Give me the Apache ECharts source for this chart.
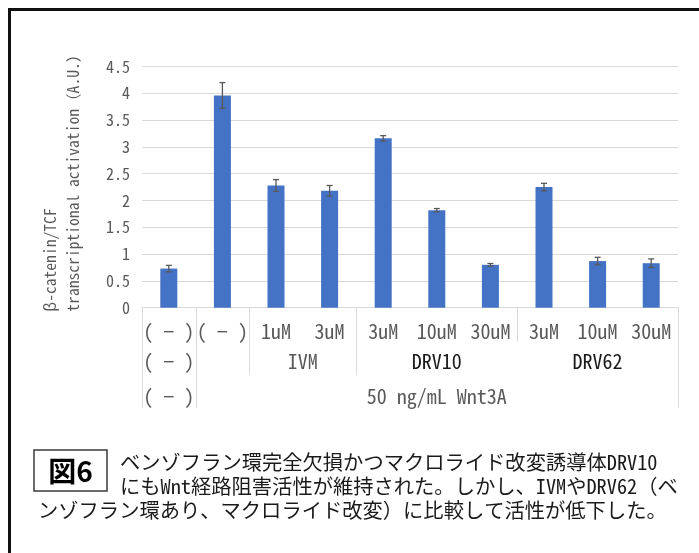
<!DOCTYPE html>
<html>
<head>
<meta charset="utf-8">
<script src="https://cdn.jsdelivr.net/npm/echarts@6/dist/echarts.min.js"></script>
<style>
  html, body { margin: 0; padding: 0; background: #fff; }
  #chart { width: 699px; height: 553px; }
</style>
</head>
<body>
<div id="chart"></div>
<script>
// Treatment conditions (first label row) and measured reporter activity
const categories = ['( − )', '( − )', '1uM', '3uM', '3uM', '10uM', '30uM', '3uM', '10uM', '30uM'];
const activation = [0.73, 3.96, 2.28, 2.18, 3.16, 1.82, 0.80, 2.25, 0.87, 0.83];
const errorBars = [0.06, 0.24, 0.11, 0.10, 0.05, 0.03, 0.025, 0.07, 0.07, 0.08];

// Value axis range
const yMin = 0;
const yMax = 4.5;
const yStep = 0.5;

// Second label row: compound groups [label, first index, last index]
const compoundGroups = [['( − )', 0, 0], ['IVM', 2, 3], ['DRV10', 4, 6], ['DRV62', 7, 9]];
// Third label row: Wnt3A stimulation
const wntGroups = [['( − )', 0, 0], ['50 ng/mL Wnt3A', 1, 9]];
// Separator lines: [category boundary, deepest label row reached]
const separators = [[0, 3], [1, 3], [2, 2], [4, 2], [7, 1], [10, 3]];

const axisTitle = ['β-catenin/TCF', 'transcriptional activation（A.U.）'];
const figureTag = '図6';
const captionLines = [
  'ベンゾフラン環完全欠損かつマクロライド改変誘導体DRV10',
  'にもWnt経路阻害活性が維持された。しかし、IVMやDRV62（ベ',
  'ンゾフラン環あり、マクロライド改変）に比較して活性が低下した。'
];

const MONO = '"Noto Sans Mono CJK JP", "Noto Sans CJK JP", monospace';
const SANS = '"Noto Sans CJK JP", "Noto Sans", sans-serif';
const GRAY = '#595959';
const GRID_COLOR = '#d9d9d9';

const chart = echarts.init(document.getElementById('chart'), null, { renderer: 'canvas' });

chart.setOption({
  animation: false,
  grid: { left: 142, right: 21, top: 66.5, bottom: 245.3 },
  xAxis: {
    type: 'category',
    data: categories,
    axisLine: { show: true, lineStyle: { color: GRID_COLOR, width: 1 } },
    axisTick: { show: false },
    axisLabel: { interval: 0, margin: 14, fontSize: 20, lineHeight: 20, fontFamily: MONO, color: GRAY }
  },
  yAxis: {
    type: 'value',
    min: yMin,
    max: yMax,
    interval: yStep,
    axisLine: { show: false },
    axisTick: { show: false },
    axisLabel: { margin: 12, fontSize: 16, fontFamily: MONO, color: GRAY },
    splitLine: { lineStyle: { color: GRID_COLOR, width: 1 } }
  },
  series: [
    {
      type: 'bar',
      data: activation,
      barWidth: 17,
      itemStyle: { color: '#4472C4' }
    },
    {
      type: 'custom',
      data: activation.map((v, i) => [i, v, errorBars[i]]),
      encode: { x: 0, y: 1 },
      z: 5,
      renderItem: function (params, api) {
        const i = api.value(0);
        const v = api.value(1);
        const e = api.value(2);
        const top = api.coord([i, v + e]);
        const bot = api.coord([i, v - e]);
        const cap = 3;
        const style = { stroke: '#595959', lineWidth: 1.3 };
        return {
          type: 'group',
          children: [
            { type: 'line', shape: { x1: top[0], y1: top[1], x2: bot[0], y2: bot[1] }, style: style },
            { type: 'line', shape: { x1: top[0] - cap, y1: top[1], x2: top[0] + cap, y2: top[1] }, style: style },
            { type: 'line', shape: { x1: bot[0] - cap, y1: bot[1], x2: bot[0] + cap, y2: bot[1] }, style: style }
          ]
        };
      }
    }
  ]
});

// Multi-level category labels and the surrounding figure decoration
const c0 = chart.convertToPixel({ xAxisIndex: 0 }, 0);
const c1 = chart.convertToPixel({ xAxisIndex: 0 }, 1);
const band = c1 - c0;
const edge = k => c0 - band / 2 + k * band;
const axisY = chart.convertToPixel({ yAxisIndex: 0 }, yMin);
const rowCenter = [0, axisY + 24, axisY + 54, axisY + 89];
const rowBottom = [0, axisY + 34, axisY + 67, axisY + 100.5];

const graphics = [];

separators.forEach(([k, row]) => {
  const x = Math.round(edge(k)) + 0.5;
  graphics.push({
    type: 'line',
    shape: { x1: x, y1: axisY, x2: x, y2: rowBottom[row] },
    style: { stroke: GRID_COLOR, lineWidth: 1 }
  });
});

function groupLabel(g, row, color) {
  const cx = (edge(g[1]) + edge(g[2] + 1)) / 2;
  graphics.push({
    type: 'text',
    x: cx,
    y: rowCenter[row],
    style: {
      text: g[0], fill: color, font: '20px ' + MONO,
      textAlign: 'center', textVerticalAlign: 'middle'
    }
  });
}
compoundGroups.forEach(g => groupLabel(g, 2, g[0].startsWith('DRV') ? '#1a1a1a' : GRAY));
wntGroups.forEach(g => groupLabel(g, 3, GRAY));

// Rotated value-axis title, two lines starting from the bottom
[[50, axisTitle[0]], [73.5, axisTitle[1]]].forEach(([x, t]) => {
  graphics.push({
    type: 'text',
    x: x,
    y: axisY + 4,
    rotation: Math.PI / 2,
    style: {
      text: t, fill: GRAY, font: '15.6px ' + MONO,
      textAlign: 'left', textVerticalAlign: 'middle'
    }
  });
});

// Figure frame (runs past the right and bottom edges)
graphics.push({
  type: 'rect',
  shape: { x: 9.5, y: 9.5, width: 1000, height: 1000 },
  style: { fill: 'none', stroke: '#111', lineWidth: 3 }
});

// Figure tag box
graphics.push({
  type: 'rect',
  shape: { x: 34, y: 450, width: 73, height: 41 },
  style: { fill: '#fff', stroke: '#3a3a3a', lineWidth: 1.5 }
});
graphics.push({
  type: 'text',
  x: 70.5,
  y: 471,
  style: {
    text: figureTag, fill: '#000', font: 'bold 28px ' + SANS,
    textAlign: 'center', textVerticalAlign: 'middle'
  }
});

// Caption text
[[120, 462], [120, 486], [38, 510]].forEach(([x, y], i) => {
  graphics.push({
    type: 'text',
    x: x,
    y: y,
    style: {
      text: captionLines[i], fill: '#1a1a1a', font: '20.3px ' + MONO,
      textAlign: 'left', textVerticalAlign: 'middle'
    }
  });
});

chart.setOption({ graphic: graphics });
</script>
</body>
</html>
